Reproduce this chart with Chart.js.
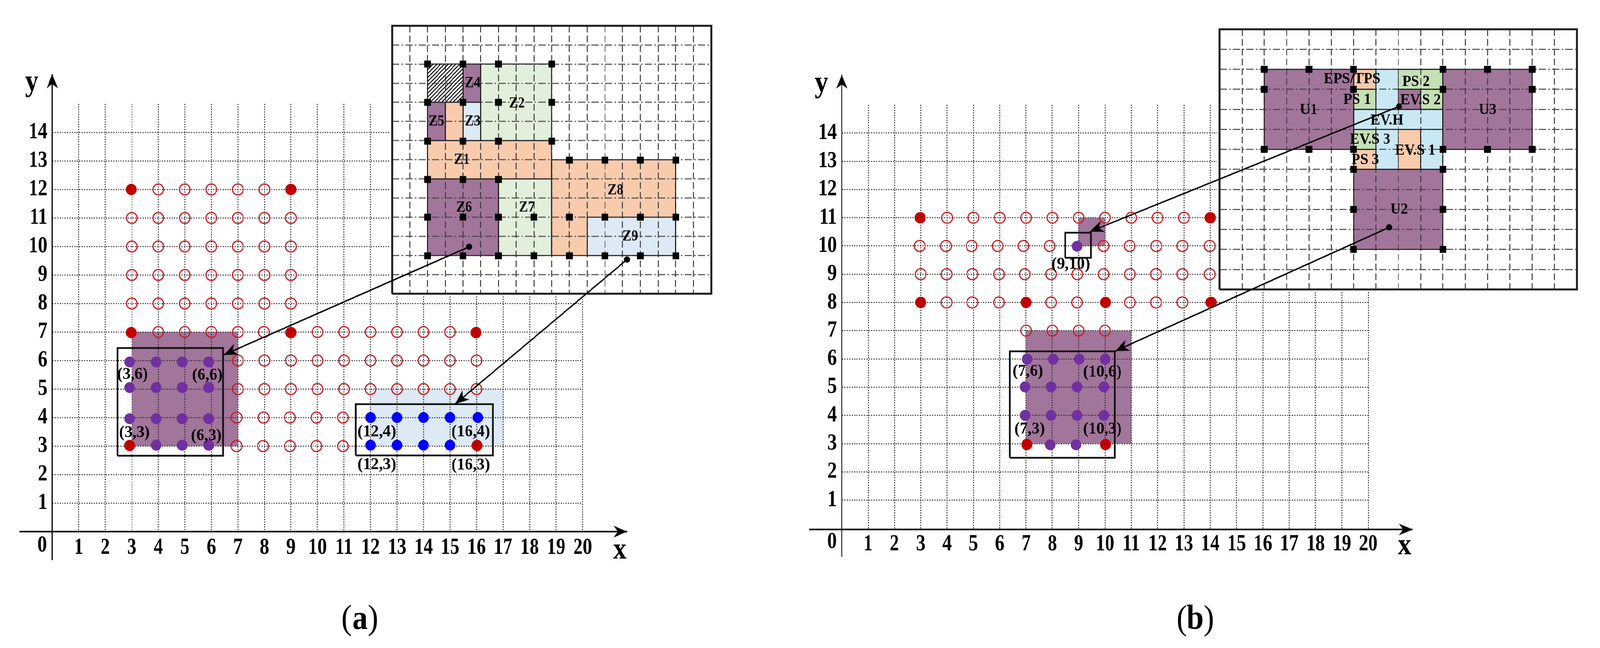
<!DOCTYPE html>
<html>
<head>
<meta charset="utf-8">
<style>
html,body{margin:0;padding:0;background:#fff;height:1659px;overflow:hidden}
#stage{position:absolute;left:0;top:0;width:4211px;height:1659px;transform-origin:0 0}
canvas{position:absolute;display:block}
</style>
<script src="https://cdn.jsdelivr.net/npm/chart.js@4/dist/chart.umd.js"></script>
</head>
<body>
<div id="stage"></div>
<script>
/* the page is laid out on the reference's 4211 px width and fitted into the actual window */
const stage=document.getElementById('stage');
stage.style.transform='scale('+Math.min(1,window.innerWidth/4211)+',1)';

/* ---------- tick labels ---------- */
const xTicks=[1,2,3,4,5,6,7,8,9,10,11,12,13,14,15,16,17,18,19,20];
const yTicks=[1,2,3,4,5,6,7,8,9,10,11,12,13,14];

/* ---------- panel (a) markers: [y, xs] ---------- */
const openA=[[12,[4,5,6,7,8]],[11,[3,4,5,6,7,8,9]],[10,[3,4,5,6,7,8,9]],[9,[3,4,5,6,7,8,9]],[8,[3,4,5,6,7,8,9]],
 [7,[4,5,6,7,7.98,10,11,12,13,14,15]],[6,[7,8,9,10,11,12,13,14,15,16]],[5,[7,8,9,10,11,12,13,14,15,16]],
 [4,[6.95,7.97,8.96,9.96,10.96]],[3,[6.95,7.95,8.96,9.96,10.96]]];
const redA=[[12,[2.98,9]],[6.98,[2.98,9,15.98]],[3.02,[2.92,16.02]]];
const purpleA=[[5.95,[2.92,3.92,4.9,5.9]],[5.05,[2.92,3.92,4.9,5.9]],[3.96,[2.92,3.92,4.9,5.9]],[3.03,[3.92,4.9,5.9]]];
const blueA=[[4.0,[12,13,14,15,16.05]],[3.03,[12,13,14,15]]];
const fillRectsA=[{c:'#a2759b',r:[3,7,3,7]},{c:'#dde9f5',r:[12,17,3,5]}];
const boxesA=[[2.457,6.44,2.66,6.44],[11.45,16.61,2.67,4.47]];
const labelsA=[['(3,6)',3.03,5.51],['(6,6)',5.85,5.48],['(3,3)',3.10,3.47],['(6,3)',5.81,3.36],
 ['(12,4)',12.24,3.49],['(16,4)',15.78,3.49],['(12,3)',12.24,2.34],['(16,3)',15.78,2.32]];
const axisTextA=[['0',-0.38,-0.49],['y',-0.77,15.74],['x',21.4,-0.67]];
const captionA=[['(',11.1,-3.1,'normal'],['a',11.6,-3.1,'bold'],[')',12.1,-3.1,'normal']];
const arrowsA=[[15.72,9.99,6.47,6.2],[21.67,9.54,15.2,4.48]];
const axesA=[[-1.24,0,21.68,0,4],[0,-1,0,16.04,3]];

/* ---------- panel (b) markers ---------- */
const openB=[[11,[4,5,6,7,8,9,10,11,12,13]],[10,[2.96,3.96,4.93,5.92,6.9,7.9,9.95,10.94,11.95,12.94,13.98]],
 [9,[3,3.98,4.96,5.97,6.95,7.95,8.95,9.95,10.95,11.94,12.94,13.98]],[8,[3.98,4.96,5.97,7.95,8.94,10.95,11.94,12.94]],
 [7,[7,8,9,10]]];
const redB=[[11,[2.98,14]],[8,[3,7,10.02,14.03]],[2.97,[7.03,10.02]]];
const purpleB=[[9.99,[8.94]],[5.99,[7.04,8.03,9.02,10.01]],[5.01,[6.96,7.95,8.94,9.96]],[4.0,[6.96,7.95,8.94,9.96]],[2.96,[7.92,8.9]]];
const fillRectsB=[{c:'#a2759b',r:[7,11,3,7]},{c:'#a2759b',r:[9,10,10,11]}];
const boxesB=[[8.49,9.46,9.58,10.47],[6.39,10.37,2.5,6.27]];
const labelsB=[['(9,10)',8.7,9.35],['(7,6)',7.07,5.55],['(10,6)',9.9,5.53],['(7,3)',7.14,3.5],['(10,3)',9.9,3.5]];
const axisTextB=[['0',-0.37,-0.49],['y',-0.77,15.74],['x',21.38,-0.64]];
const captionB=[['(',12.92,-3.25,'normal'],['b',13.42,-3.25,'bold'],[')',13.95,-3.25,'normal']];
const arrowsB=[[21.17,14.94,9.43,10.51],[20.8,10.66,10.39,6.28]];
const axesB=[[-1.24,-0.04,21.69,-0.04,4],[0,-1.01,0,16.07,3]];

/* ---------- inset (a) ---------- */
const ORANGE='#f8cbad',GREEN='#e2efda',LBLUE='#dde9f5',PURPLE='#a2759b';
const zonesA=[
 {c:LBLUE,r:[11,16,2,4]},{c:LBLUE,r:[4,5,8,10]},
 {c:PURPLE,r:[4,5,10,12]},{c:PURPLE,r:[2,3,8,10]},{c:PURPLE,r:[2,6,2,6]},
 {c:GREEN,r:[5,9,8,12]},{c:GREEN,r:[6,9,2,6]},
 {c:ORANGE,r:[3,4,8,10]},{c:ORANGE,r:[2,9,6,8]},{c:ORANGE,r:[9,16,2,7]},
 {c:'hatch',r:[2,4,10,12]}];
const squaresA=[[12,[2,4,6,9]],[10,[2,4,6,9]],[7.97,[2,4,6,9]],[6.98,[10,12,14,16]],[5.97,[2,4,6]],[4,[2,4,6,8,10,12,14,16]],[1.98,[2,4,6,8,10,12,14,16]]];
const zoneLabelsA=[['Z4',4.54,11],['Z2',7.04,9.95],['Z5',2.5,9],['Z3',4.54,9],['Z1',3.94,7],['Z8',12.6,5.4],['Z6',4.06,4.5],['Z7',7.6,4.5],['Z9',13.43,3]];

/* ---------- inset (b) ---------- */
const C_ORANGE='#f8cbad',C_GREEN='#c5e0b4',C_BLUE='#c9e8f4';
const zonesB=[
 {c:C_GREEN,r:[6,7,9,10]},{c:C_GREEN,r:[8,10,10,11]},{c:C_GREEN,r:[9,10,9,10]},{c:C_GREEN,r:[6,7,7,8]},
 {c:C_ORANGE,r:[6,7,10,11]},{c:C_ORANGE,r:[6,7,6,7]},{c:C_ORANGE,r:[8,9,6,8]},
 {c:PURPLE,r:[8,9,9,10]},{c:C_BLUE,r:[6,10,8,9]},{c:C_BLUE,r:[6,10,6,11]},
 {c:PURPLE,r:[2,6,7,11]},{c:PURPLE,r:[10,14,7,11]},{c:PURPLE,r:[6,10,2,6]}];
const squaresB=[[11,[2,4,6,10,12,14]],[10,[2,6,10,14]],[7,[2,4,6,10,12,14]],[6,[6,10]],[4,[6,10]],[2,[6,10]]];
const zoneLabelsB=[['EPS/TPS',5.93,10.5],['PS 2',8.8,10.37],['PS 1',6.16,9.46],['EV.S 2',9,9.44],['U1',3.99,8.96],['U3',12,8.96],
 ['EV.H',7.5,8.43],['EV.S 3',6.74,7.47],['EV.S 1',8.76,6.93],['PS 3',6.52,6.46],['U2',8.04,3.98]];

/* ---------- helpers ---------- */
const FAMILY='"Liberation Serif"';
const rows=a=>a.flatMap(([y,xs])=>xs.map(x=>({x,y})));
const ring=([x0,x1,y0,y1])=>[{x:x0,y:y0},{x:x1,y:y0},{x:x1,y:y1},{x:x0,y:y1},{x:x0,y:y0}];
function mkCanvas(left,top,w,h,bg){
  const c=document.createElement('canvas');c.width=w;c.height=h;
  c.style.left=left+'px';c.style.top=top+'px';c.style.width=w+'px';c.style.height=h+'px';
  if(bg)c.style.background=bg;
  stage.appendChild(c);
  const ctx=c.getContext('2d');
  const orig=ctx.fillText.bind(ctx);ctx.__sx=0.83;
  ctx.fillText=function(s,x,y,m){ctx.save();ctx.translate(x,y);ctx.scale(ctx.__sx,1);
    if(m===undefined)orig(s,0,0);else orig(s,0,0,m);ctx.restore();};
  return c;
}
const textPlugin=items=>({id:'txt',afterDraw(ch){
  const {ctx,scales:{x,y}}=ch;ctx.save();ctx.fillStyle='#000';ctx.textAlign='center';ctx.textBaseline='middle';
  for(const it of items){ctx.font=it.font;ctx.__sx=it.sx;
    ctx.fillText(it.t,x.getPixelForValue(it.x),y.getPixelForValue(it.y));}
  ctx.__sx=0.83;ctx.restore();}});
const toItems=(a,font,sx)=>a.map(r=>({t:r[0],x:r[1],y:r[2],sx,font:r[3]?`${r[3]} 88px ${FAMILY}`:font}));
const base=()=>({responsive:false,animation:false,devicePixelRatio:1,events:[],
  plugins:{legend:{display:false},tooltip:{enabled:false},filler:{propagate:false,drawTime:'beforeDraw'}}});
const pts=(data,bg,bd,r,bw,style)=>({data,showLine:false,clip:false,pointStyle:style||'circle',pointRadius:r,
  pointBackgroundColor:bg,pointBorderColor:bd,pointBorderWidth:bw});
const fillDs=(z,bg,bd,lw)=>({data:ring(z),showLine:true,clip:false,fill:'shape',backgroundColor:bg,borderColor:bd,borderWidth:lw,pointRadius:0,tension:0});
const boxDs=(b,lw,col)=>({data:ring(b),showLine:true,clip:false,fill:false,borderColor:col||'#111',borderWidth:lw,pointRadius:0,tension:0});

function head(){
  const c=document.createElement('canvas');c.width=90;c.height=90;const g=c.getContext('2d');
  g.fillStyle='#000';g.beginPath();g.moveTo(45,45);g.lineTo(60,81);g.lineTo(45,70);g.lineTo(30,81);g.closePath();g.fill();return c;
}
const HEAD=head();

/* ---------- main plot ---------- */
function mainChart(g,d){
  const c=mkCanvas(g.left,0,g.w,1659);
  const items=[...toItems(d.labels,`bold 42px ${FAMILY}`,1),...toItems(d.axisText.slice(0,1),`bold 59px ${FAMILY}`,0.83),
    ...toItems(d.axisText.slice(1),`bold 78px ${FAMILY}`,0.9),...toItems(d.caption,'',0.92)];
  const ds=[pts(rows(d.red),'#c00000','#c00000',14.5,0),pts(rows(d.purple),'#7030a0','#7030a0',14,0)];
  if(d.blue)ds.push(pts(rows(d.blue),'#0000ff','#0000ff',14,0));
  ds.push(pts(rows(d.open),'rgba(0,0,0,0)','#cc1a22',14,3));
  d.boxes.forEach(b=>ds.push(boxDs([b[0],b[1],b[2],b[3]],4.5)));
  d.rects.forEach(z=>ds.push(fillDs(z.r,z.c,'rgba(0,0,0,0)',0)));
  const opt=base();
  opt.layout={autoPadding:false,padding:{left:0,top:g.top,right:g.left+g.w-g.right,bottom:0}};
  const gridCommon=(z)=>({display:true,color:'#2b2b2b',lineWidth:2.5,drawTicks:false,z});
  opt.scales={
    x:{type:'linear',min:0,max:20,bounds:'data',afterBuildTicks:s=>{s.ticks=xTicks.map(value=>({value}))},
       afterFit:s=>{s.height=1659-g.bottom},
       grid:gridCommon(0),border:{display:false,dash:[3,3.4]},
       ticks:{autoSkip:false,maxRotation:0,minRotation:0,padding:g.xpad,color:'#000',font:{family:FAMILY,size:59,weight:'bold'},callback:v=>String(v)}},
    y:{type:'linear',min:0,max:15,bounds:'data',afterBuildTicks:s=>{s.ticks=yTicks.map(value=>({value}))},
       afterFit:s=>{s.width=g.x0-g.left},
       grid:gridCommon(0),border:{display:false,dash:[3,3.4]},
       ticks:{autoSkip:false,padding:13,color:'#000',font:{family:FAMILY,size:59,weight:'bold'},callback:v=>String(v)}}
  };
  return new Chart(c,{type:'scatter',data:{datasets:ds},options:opt,plugins:[textPlugin(items)]});
}

/* ---------- inset plot ---------- */
function insetChart(g,d){
  const pad=7;
  const c=mkCanvas(g.l-pad,g.t-pad,g.r-g.l+2*pad,g.b-g.t+2*pad,'#fff');
  const ctx=c.getContext('2d');
  const tile=document.createElement('canvas');tile.width=10;tile.height=10;const tg=tile.getContext('2d');
  tg.fillStyle='#fff';tg.fillRect(0,0,10,10);tg.strokeStyle='#000';tg.lineWidth=2.4;
  tg.beginPath();tg.moveTo(-2,12);tg.lineTo(12,-2);tg.moveTo(-2,2);tg.lineTo(2,-2);tg.moveTo(8,12);tg.lineTo(12,8);tg.stroke();
  const hatch=ctx.createPattern(tile,'repeat');
  const ds=[pts(rows(d.squares),'#000','#000',12.5,0,'rect')];
  ds.push(boxDs([0,d.nx,0,d.ny],5,'#1c1c1c'));
  d.zones.forEach(z=>ds.push(fillDs(z.r,z.c==='hatch'?hatch:z.c,'#202020',2.5)));
  const opt=base();
  opt.layout={autoPadding:false,padding:pad};
  opt.scales={
    x:{type:'linear',min:0,max:d.nx,bounds:'data',afterBuildTicks:s=>{s.ticks=Array.from({length:d.nx+1},(_,i)=>({value:i}))},
       grid:{color:'#3a3a3a',lineWidth:2.5,drawTicks:false},border:{display:false,dash:[17,8]},ticks:{display:false,autoSkip:false}},
    y:{type:'linear',min:0,max:d.ny,bounds:'data',afterBuildTicks:s=>{s.ticks=Array.from({length:d.ny+1},(_,i)=>({value:i}))},
       grid:{color:'#444',lineWidth:2.5,drawTicks:false},border:{display:false,dash:[19,6,4,6]},ticks:{display:false,autoSkip:false}}
  };
  return new Chart(c,{type:'scatter',data:{datasets:ds},options:opt,
    plugins:[textPlugin(toItems(d.labels,`bold ${d.font}px ${FAMILY}`,d.sx))]});
}

/* ---------- arrows and axes over everything ---------- */
function overlay(g,d){
  const c=mkCanvas(g.left,0,g.w,1659);
  const dx=(g.right-g.x0)/20,dy=(g.bottom-g.top)/15,ox=g.x0-g.left;
  const rot=cx=>{const ch=cx.chart,da=cx.dataset&&cx.dataset.data;if(!da)return 0;
    const X=ch.scales.x,Y=ch.scales.y;
    const px=X.getPixelForValue(da[1].x)-X.getPixelForValue(da[0].x),py=Y.getPixelForValue(da[1].y)-Y.getPixelForValue(da[0].y);
    return Math.atan2(px,-py)*180/Math.PI;};
  const line=(a,lw,dot)=>({data:[{x:a[0],y:a[1]},{x:a[2],y:a[3]}],showLine:true,clip:false,fill:false,tension:0,borderColor:'#000',borderWidth:lw,
    pointStyle:['circle',HEAD],pointRadius:[dot?8:0,20],pointBackgroundColor:'#000',pointBorderWidth:0,pointRotation:rot});
  const ds=[...d.arrows.map(a=>line(a,3.6,true)),...d.axes.map(a=>line(a,a[4],false))];
  const opt=base();
  opt.layout={autoPadding:false};
  opt.scales={x:{type:'linear',display:false,bounds:'data',min:-ox/dx,max:(g.w-ox)/dx},
              y:{type:'linear',display:false,bounds:'data',min:(g.bottom-1659)/dy,max:g.bottom/dy}};
  return new Chart(c,{type:'scatter',data:{datasets:ds},options:opt});
}

const geoA={left:0,w:2105,x0:137.5,right:1533.5,top:266,bottom:1361,xpad:6};
const geoB={left:2105,w:2106,x0:2215.5,right:3600.9,top:268.2,bottom:1352.7,xpad:6};

mainChart(geoA,{open:openA,red:redA,purple:purpleA,blue:blueA,rects:fillRectsA,boxes:boxesA,labels:labelsA,axisText:axisTextA,caption:captionA});
insetChart({l:1031.5,r:1872,t:66,b:751.6},{nx:18,ny:14,zones:zonesA,squares:squaresA,labels:zoneLabelsA,font:41,sx:0.87});
overlay(geoA,{arrows:arrowsA,axes:axesA});

mainChart(geoB,{open:openB,red:redB,purple:purpleB,rects:fillRectsB,boxes:boxesB,labels:labelsB,axisText:axisTextB,caption:captionB});
insetChart({l:3209.5,r:4150,t:75,b:741},{nx:16,ny:13,zones:zonesB,squares:squaresB,labels:zoneLabelsB,font:39,sx:0.97});
overlay(geoB,{arrows:arrowsB,axes:axesB});
</script>
</body>
</html>
